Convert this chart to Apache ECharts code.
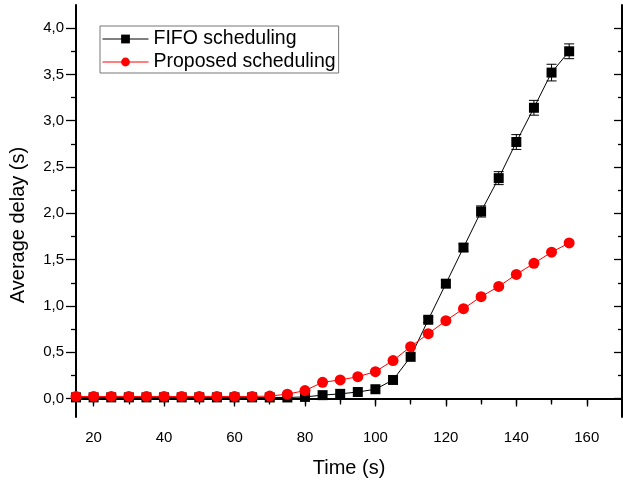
<!DOCTYPE html>
<html>
<head>
<meta charset="utf-8">
<script src="https://cdn.jsdelivr.net/npm/echarts@6/dist/echarts.min.js"></script>
<style>html,body{margin:0;padding:0;background:#fff}#c{width:623px;height:485px}</style>
</head>
<body>
<div id="c"></div>
<script>
// Data
var times = [15,20,25,30,35,40,45,50,55,60,65,70,75,80,85,90,95,100,105,110,115,120,125,130,135,140,145,150,155];
var fifo = [0.012,0.012,0.012,0.012,0.012,0.012,0.012,0.012,0.012,0.012,0.012,0.011,0.011,0.017,0.036,0.05,0.07,0.10,0.20,0.45,0.85,1.24,1.63,2.02,2.38,2.77,3.14,3.52,3.75];
var fifoErr = [0,0,0,0,0,0,0,0,0,0,0,0,0,0,0,0,0,0,0,0,0.03,0.04,0.04,0.06,0.07,0.08,0.08,0.09,0.08];
var proposed = [0.022,0.022,0.022,0.022,0.022,0.022,0.022,0.022,0.022,0.022,0.022,0.026,0.047,0.085,0.175,0.20,0.235,0.29,0.41,0.56,0.70,0.84,0.97,1.10,1.21,1.34,1.46,1.58,1.68];
var xMajor = [20,40,60,80,100,120,140,160];
var xMinor = [30,50,70,90,110,130,150];
var xTop = [20,30,40,50,60,70,80,90,100,110,120,130,140,150,160];
var yMajor = [0,0.5,1,1.5,2,2.5,3,3.5,4];
var yMinor = [0.25,0.75,1.25,1.75,2.25,2.75,3.25,3.75];

var FONT = 'Liberation Sans, Arial, sans-serif';
var chart = echarts.init(document.getElementById('c'), null, {renderer:'canvas'});

function pairs(a,b){ return a.map(function(v,i){return [v,b[i]];}); }
var errData = times.map(function(t,i){return [t,fifo[i],fifoErr[i]];}).filter(function(d){return d[2]>0;});

var axLine = {show:true, lineStyle:{color:'#000', width:2}};
var noLine = {show:false};
function xa(pos, ticks, len, inside, line, labels){
  return {
    type:'value', min:15, max:170, position:pos,
    axisLine: line ? axLine : noLine,
    axisTick:{show:true, customValues:ticks, length:len, inside:inside, lineStyle:{color:'#000', width:1.3}},
    axisLabel: labels ? {show:true, customValues:labels, fontSize:15, fontFamily:FONT, color:'#000', margin:13} : {show:false},
    splitLine:{show:false}
  };
}
function ya(pos, ticks, len, inside, line, labels){
  return {
    type:'value', min:-0.2, max:4.25, position:pos,
    axisLine: line ? axLine : noLine,
    axisTick:{show:true, customValues:ticks, length:len, inside:inside, lineStyle:{color:'#000', width:1.3}},
    axisLabel: labels ? {show:true, customValues:labels, fontSize:15, fontFamily:FONT, color:'#000', margin:12,
      formatter:function(v){return v.toFixed(1).replace('.',',');}} : {show:false},
    splitLine:{show:false}
  };
}

var x0 = xa('bottom', xMajor, 8, false, true, xMajor);
x0.name = 'Time (s)'; x0.nameLocation='middle'; x0.nameGap = 41;
x0.nameTextStyle = {fontSize:20, fontFamily:FONT, color:'#000'};
var y0 = ya('left', yMajor, 10, false, true, yMajor);
y0.name = 'Average delay (s)'; y0.nameLocation='middle'; y0.nameGap = 48;
y0.nameTextStyle = {fontSize:20, fontFamily:FONT, color:'#000', padding:[0,28,0,0]};

chart.setOption({
  animation:false,
  backgroundColor:'#fff',
  grid:{left:71, right:1, top:5, bottom:68, containLabel:false},
  xAxis:[ x0, xa('bottom', xMinor, 4, false, false, null), xa('top', xTop, 6, true, true, null) ],
  yAxis:[ y0, ya('left', yMinor, 5, false, false, null), ya('right', yMajor, 8, true, true, null), ya('right', yMinor, 4, true, false, null) ],
  legend:{
    show:true, orient:'vertical', left:100, top:26,
    data:['FIFO scheduling','Proposed scheduling'],
    itemWidth:46, itemHeight:11, itemGap:3,
    padding:[3,3,1,2],
    borderColor:'#777', borderWidth:1,
    textStyle:{fontSize:19.5, fontFamily:FONT, color:'#000', lineHeight:20},
    itemStyle:{borderWidth:0},
    lineStyle:{width:1}
  },
  series:[
    {
      name:'FIFO scheduling', type:'line', data:pairs(times,fifo),
      xAxisIndex:0, yAxisIndex:0,
      symbol:'rect', symbolSize:10, showAllSymbol:true,
      lineStyle:{color:'#000', width:1}, itemStyle:{color:'#000'}, z:3
    },
    {
      name:'FIFO err', type:'custom', data:errData, xAxisIndex:0, yAxisIndex:0, z:4,
      renderItem:function(params, api){
        var x=api.value(0), y=api.value(1), e=api.value(2);
        var hi=api.coord([x,y+e]), lo=api.coord([x,y-e]);
        var st={stroke:'#000', lineWidth:1};
        return {type:'group', children:[
          {type:'line', shape:{x1:hi[0],y1:hi[1],x2:lo[0],y2:lo[1]}, style:st},
          {type:'line', shape:{x1:hi[0]-5,y1:hi[1],x2:hi[0]+5,y2:hi[1]}, style:st},
          {type:'line', shape:{x1:lo[0]-5,y1:lo[1],x2:lo[0]+5,y2:lo[1]}, style:st}
        ]};
      }
    },
    {
      name:'Proposed scheduling', type:'line', data:pairs(times,proposed),
      xAxisIndex:0, yAxisIndex:0,
      symbol:'circle', symbolSize:11, showAllSymbol:true,
      lineStyle:{color:'#ff0000', width:1}, itemStyle:{color:'#ff0000'}, z:5
    }
  ]
});
</script>
</body>
</html>
